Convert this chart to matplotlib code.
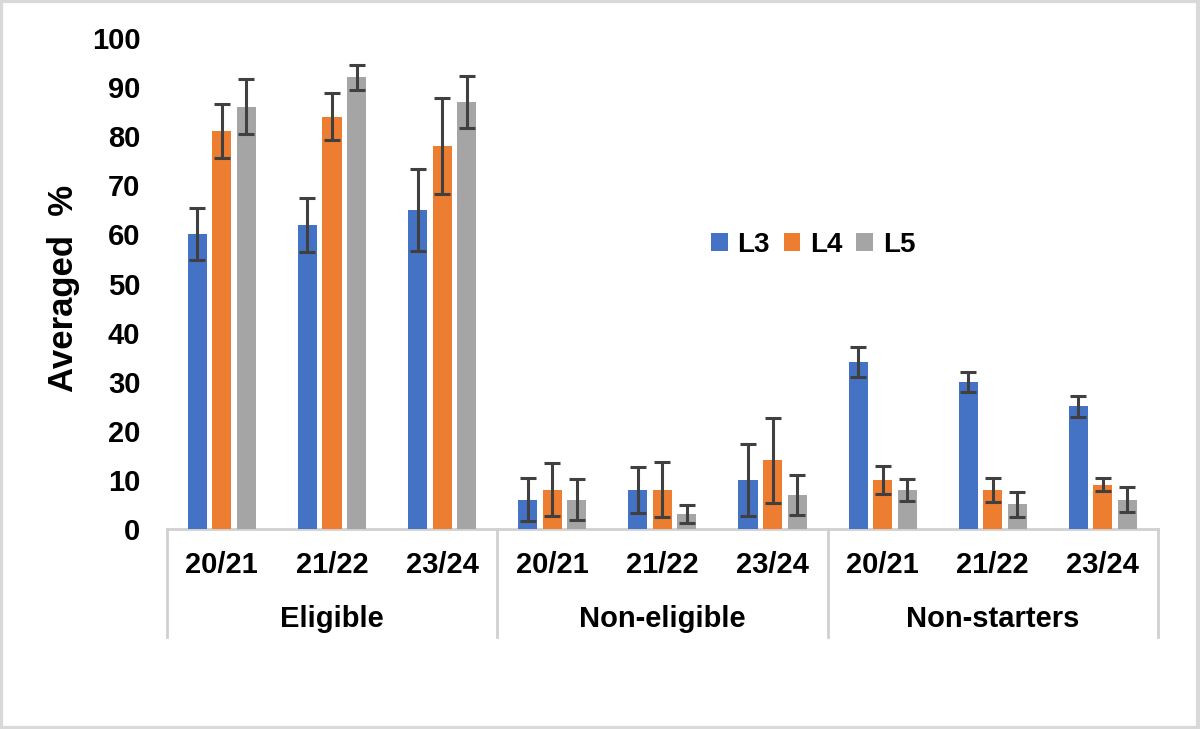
import numpy as np
import matplotlib.pyplot as plt
from matplotlib.patches import Rectangle

plt.rcParams['font.family'] = ['Liberation Sans', 'DejaVu Sans']
plt.rcParams['font.weight'] = 'bold'

groups = ['Eligible', 'Non-eligible', 'Non-starters']
years = ['20/21', '21/22', '23/24']
series = ['L3', 'L4', 'L5']
colors = ['#4472C4', '#ED7D31', '#A5A5A5']

# values in order: Eligible x3, Non-eligible x3, Non-starters x3
l3 = [60, 62, 65, 6, 8, 10, 34, 30, 25]
l4 = [81, 84, 78, 8, 8, 14, 10, 8, 9]
l5 = [86, 92, 87, 6, 3, 7, 8, 5, 6]
l3_err = [5.3, 5.5, 8.4, 4.4, 4.7, 7.3, 3.0, 2.0, 2.1]
l4_err = [5.5, 4.7, 9.7, 5.4, 5.6, 8.7, 2.8, 2.4, 1.3]
l5_err = [5.6, 2.5, 5.3, 4.2, 1.8, 4.1, 2.2, 2.5, 2.5]

values = [l3, l4, l5]
errors = [l3_err, l4_err, l5_err]

fig = plt.figure(figsize=(12, 7.29), dpi=100)
ax = fig.add_axes([0.139, 0.2743, 0.826, 0.6736])

x = np.arange(len(l3))
width = 0.173
step = 0.223
for i in range(3):
    ax.bar(x + (i - 1) * step, values[i], width, color=colors[i], label=series[i],
           yerr=errors[i], zorder=2,
           error_kw=dict(ecolor='#404040', elinewidth=2.2, capsize=6, capthick=2.2))

ax.set_xlim(-0.5, 8.5)
ax.set_ylim(0, 100)
ax.set_yticks(range(0, 101, 10))
ax.tick_params(axis='y', length=0, pad=19, labelsize=21)
ax.set_xticks([])
for s in ax.spines.values():
    s.set_visible(False)

# x axis line and group separators
ax.plot([-0.5, 8.5], [0, 0], color='#d0d0d0', lw=2, clip_on=False, zorder=1)
for xs in [-0.5, 2.5, 5.5, 8.5]:
    ax.plot([xs, xs], [0, -0.22], color='#d0d0d0', lw=2, clip_on=False,
            transform=ax.get_xaxis_transform())

# category labels
for i in range(len(x)):
    ax.text(x[i], -0.073, years[i % 3], ha='center', va='center', fontsize=21,
            fontweight='bold', transform=ax.get_xaxis_transform())
for g in range(3):
    ax.text(g * 3 + 1, -0.184, groups[g], ha='center', va='center', fontsize=21,
            fontweight='bold', transform=ax.get_xaxis_transform())

fig.text(64 / 1200, 1 - 288 / 729, 'Averaged  %', rotation=90, ha='center',
         va='center', fontsize=25, fontweight='bold')

fig.legend(loc='center', bbox_to_anchor=(813 / 1200, 1 - 245 / 729), ncol=3,
           frameon=False, fontsize=20, handlelength=0.6, handleheight=0.6,
           handletextpad=0.35, columnspacing=0.5)

fig.patches.append(Rectangle((0.001, 0.001), 0.997, 0.997, transform=fig.transFigure,
                             fill=False, edgecolor='#d9d9d9', lw=3))

fig.savefig('out.png', dpi=100)
